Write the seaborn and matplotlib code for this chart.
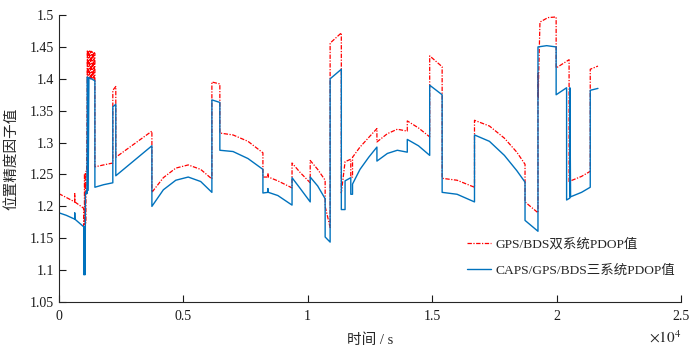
import matplotlib
matplotlib.use('Agg')
import matplotlib.pyplot as plt
import seaborn as sns

sns.set_theme(style='ticks')
plt.rcParams['font.family'] = ['Liberation Serif', 'Noto Sans CJK SC']
plt.rcParams['mathtext.fontset'] = 'stix'
plt.rcParams['axes.unicode_minus'] = False

# GPS/BDS 双系统 (时间 s, PDOP)
gps_t = [0, 300, 640, 640, 645, 1000, 1000, 1030, 1030, 1060, 1060, 1090, 1090, 1120,
         1150, 1150, 1190, 1190, 1230, 1230, 1270, 1270, 1310, 1310, 1350, 1350,
         1390, 1390, 1420, 1420, 1450, 1450,
         1800, 2170, 2170, 2290, 2290, 3740, 3740,
         4200, 4700, 5200, 5700, 6150, 6150, 6470, 6470,
         7000, 7600, 8200, 8200, 8400, 8400, 8420, 8800, 9370, 9370,
         9700, 10100, 10100, 10400, 10700, 10700, 10900, 10900, 11350, 11350,
         11500, 11730, 11730, 11800, 11800, 12100, 12450, 12780, 12780,
         13200, 13600, 14000, 14000, 14450, 14900, 14900, 15400, 15400,
         16000, 16700, 16700, 17300, 17900, 18400, 18730, 18730, 18730, 19250,
         19250, 19260, 19280, 19330, 19650, 19980, 19980, 20500, 20500,
         20560, 21000, 21350, 21350, 21660]
gps_v = [1.220, 1.214, 1.207, 1.220, 1.207, 1.197, 1.168, 1.170, 1.250, 1.252, 1.172, 1.175, 1.255, 1.255,
         1.445, 1.400, 1.400, 1.444, 1.444, 1.400, 1.400, 1.443, 1.443, 1.400, 1.400, 1.442,
         1.442, 1.400, 1.400, 1.441, 1.440, 1.262,
         1.265, 1.268, 1.382, 1.388, 1.277, 1.318, 1.222,
         1.245, 1.260, 1.265, 1.258, 1.243, 1.395, 1.392, 1.315,
         1.312, 1.302, 1.284, 1.246, 1.246, 1.252, 1.246, 1.240, 1.229, 1.268,
         1.253, 1.237, 1.272, 1.258, 1.241, 1.200, 1.167, 1.456, 1.472, 1.221,
         1.270, 1.274, 1.246, 1.246, 1.277, 1.293, 1.308, 1.322, 1.301,
         1.314, 1.321, 1.318, 1.334, 1.323, 1.309, 1.436, 1.419, 1.244,
         1.241, 1.230, 1.335, 1.326, 1.307, 1.285, 1.266, 1.241, 1.207, 1.190,
         1.410, 1.370, 1.410, 1.489, 1.496, 1.497, 1.417, 1.430, 1.237,
         1.240, 1.247, 1.255, 1.415, 1.420]

# CAPS/GPS/BDS 三系统
caps_t = [0, 300, 640, 640, 645, 1000, 1000, 1010, 1020, 1030, 1040, 1050, 1060, 1070,
          1120, 1130, 1150, 1180, 1210, 1450, 1450, 1800, 2170, 2170, 2290, 2290, 3740, 3740,
          4200, 4700, 5200, 5700, 6150, 6150, 6470, 6470,
          7000, 7600, 8200, 8200, 8400, 8400, 8420, 8800, 9370, 9370,
          9700, 10100, 10100, 10400, 10700, 10700, 10900, 10900, 11350, 11350,
          11500, 11500, 11730, 11730, 11800, 11800, 12100, 12450, 12780, 12780,
          13200, 13600, 14000, 14000, 14450, 14900, 14900, 15400, 15400,
          16000, 16700, 16700, 17300, 17900, 18400, 18730, 18730, 19250,
          19250, 19600, 19980, 19980, 20400, 20400, 20530, 20530, 20560,
          21000, 21350, 21350, 21660]
caps_v = [1.190, 1.186, 1.180, 1.190, 1.180, 1.168, 1.093, 1.168, 1.093, 1.168, 1.093, 1.168,
          1.093, 1.220, 1.225, 1.220,
          1.403, 1.225, 1.402, 1.397, 1.230, 1.234, 1.237, 1.356, 1.360, 1.248, 1.295, 1.200,
          1.226, 1.241, 1.246, 1.239, 1.222, 1.367, 1.363, 1.288,
          1.286, 1.275, 1.258, 1.221, 1.222, 1.228, 1.222, 1.217, 1.202, 1.245,
          1.228, 1.207, 1.246, 1.232, 1.212, 1.152, 1.144, 1.400, 1.415, 1.195,
          1.195, 1.240, 1.245, 1.219, 1.219, 1.235, 1.258, 1.277, 1.293, 1.271,
          1.283, 1.288, 1.285, 1.305, 1.295, 1.280, 1.390, 1.375, 1.222,
          1.219, 1.207, 1.312, 1.302, 1.280, 1.256, 1.238, 1.178, 1.161,
          1.450, 1.452, 1.450, 1.375, 1.386, 1.210, 1.213, 1.386, 1.215,
          1.222, 1.230, 1.382, 1.385]

x_ticks = [0, 5000, 10000, 15000, 20000, 25000]
x_labels = ['0', '0.5', '1', '1.5', '2', '2.5']
y_ticks = [1.05, 1.1, 1.15, 1.2, 1.25, 1.3, 1.35, 1.4, 1.45, 1.5]
y_labels = ['1.05', '1.1', '1.15', '1.2', '1.25', '1.3', '1.35', '1.4', '1.45', '1.5']

fig, ax = plt.subplots(figsize=(7, 3.5), dpi=100)
fig.subplots_adjust(left=0.084, right=0.973, top=0.957, bottom=0.137)

sns.lineplot(x=gps_t, y=gps_v, ax=ax, estimator=None, sort=False, color='#ff0000',
             linewidth=0.9, linestyle=(0, (3.5, 1.2, 1, 1.2)), label='GPS/BDS双系统PDOP值')
sns.lineplot(x=caps_t, y=caps_v, ax=ax, estimator=None, sort=False, color='#0072bd',
             linewidth=1.0, label='CAPS/GPS/BDS三系统PDOP值')

ax.set_xlim(0, 25000)
ax.set_ylim(1.05, 1.5)
ax.set_xticks(x_ticks)
ax.set_xticklabels(x_labels)
ax.set_yticks(y_ticks)
ax.set_yticklabels(y_labels)
ax.tick_params(direction='in', length=5, width=0.8, labelsize=10, colors='#1a1a1a')
ax.tick_params(axis='x', pad=6)
for s in ['top', 'right']:
    ax.spines[s].set_visible(False)
for s in ['left', 'bottom']:
    ax.spines[s].set_linewidth(0.8)
    ax.spines[s].set_color('#262626')

ax.set_xlabel('时间 / s', fontsize=10.5, labelpad=7)
ax.set_ylabel('位置精度因子值', fontsize=10.5, labelpad=8)
ax.text(1.0, -0.095, r'$\times 10^{4}$', transform=ax.transAxes, ha='right', va='top', fontsize=11)

leg = ax.legend(loc='lower right', bbox_to_anchor=(1.01, 0.045), frameon=False,
                fontsize=9.7, handlelength=1.8, handletextpad=0.3, labelspacing=1.05)

fig.savefig('out.png', dpi=100)
